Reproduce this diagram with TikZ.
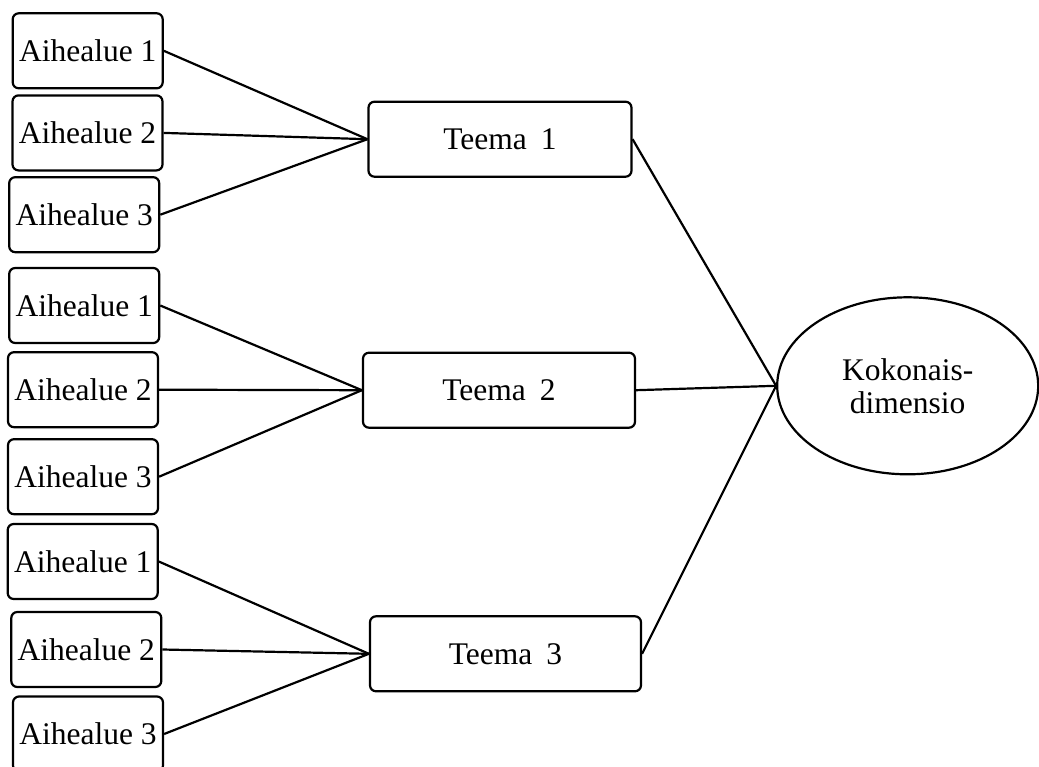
\documentclass[tikz,border=0pt]{standalone}
\usepackage{fontspec}
\setmainfont{Liberation Serif}
\usetikzlibrary{shapes.geometric}
\begin{document}
\begin{tikzpicture}[x=1pt,y=-1pt,
  every node/.style={font=\fontsize{31.5}{33}\selectfont, text=black},
  area/.style={draw=black, line width=2.2pt, rounded corners=6pt, minimum width=150pt, minimum height=75pt, inner sep=0pt},
  theme/.style={draw=black, line width=2.2pt, rounded corners=6pt, minimum height=75pt, inner sep=0pt},
  whole/.style={draw=black, line width=2.2pt, ellipse, minimum width=261pt, minimum height=177pt, inner sep=0pt, align=center},
  link/.style={draw=black, line width=2.2pt}]
\useasboundingbox (0,0) rectangle (1039,766);
\fill[white] (0,0) rectangle (1039,766);
% left boxes
\node[area] (a1) at (87.7,50.8) {Aihealue 1};
\node[area] (a2) at (87.5,132.9) {Aihealue 2};
\node[area] (a3) at (84.2,214.7) {Aihealue 3};
\node[area] (a4) at (84.2,305.5) {Aihealue 1};
\node[area] (a5) at (83,389.7) {Aihealue 2};
\node[area] (a6) at (83,476.7) {Aihealue 3};
\node[area] (a7) at (82.7,561.5) {Aihealue 1};
\node[area] (a8) at (86.3,649.5) {Aihealue 2};
\node[area] (a9) at (88,734) {Aihealue 3};
% themes
\node[theme, minimum width=263pt] (t1) at (500,139.2) {Teema\hspace{0.45em}1};
\node[theme, minimum width=272pt] (t2) at (499,390.2) {Teema\hspace{0.45em}2};
\node[theme, minimum width=271pt] (t3) at (505.5,653.8) {Teema\hspace{0.45em}3};
% whole
\node[whole] (k) at (907.7,385.8) {Kokonais-\\dimensio};
% connectors
\draw[link] (a1.east) -- (t1.west);
\draw[link] (a2.east) -- (t1.west);
\draw[link] (a3.east) -- (t1.west);
\draw[link] (a4.east) -- (t2.west);
\draw[link] (a5.east) -- (t2.west);
\draw[link] (a6.east) -- (t2.west);
\draw[link] (a7.east) -- (t3.west);
\draw[link] (a8.east) -- (t3.west);
\draw[link] (a9.east) -- (t3.west);
\draw[link] (t1.east) -- (k.west);
\draw[link] (t2.east) -- (k.west);
\draw[link] (t3.east) -- (k.west);
\end{tikzpicture}
\end{document}
